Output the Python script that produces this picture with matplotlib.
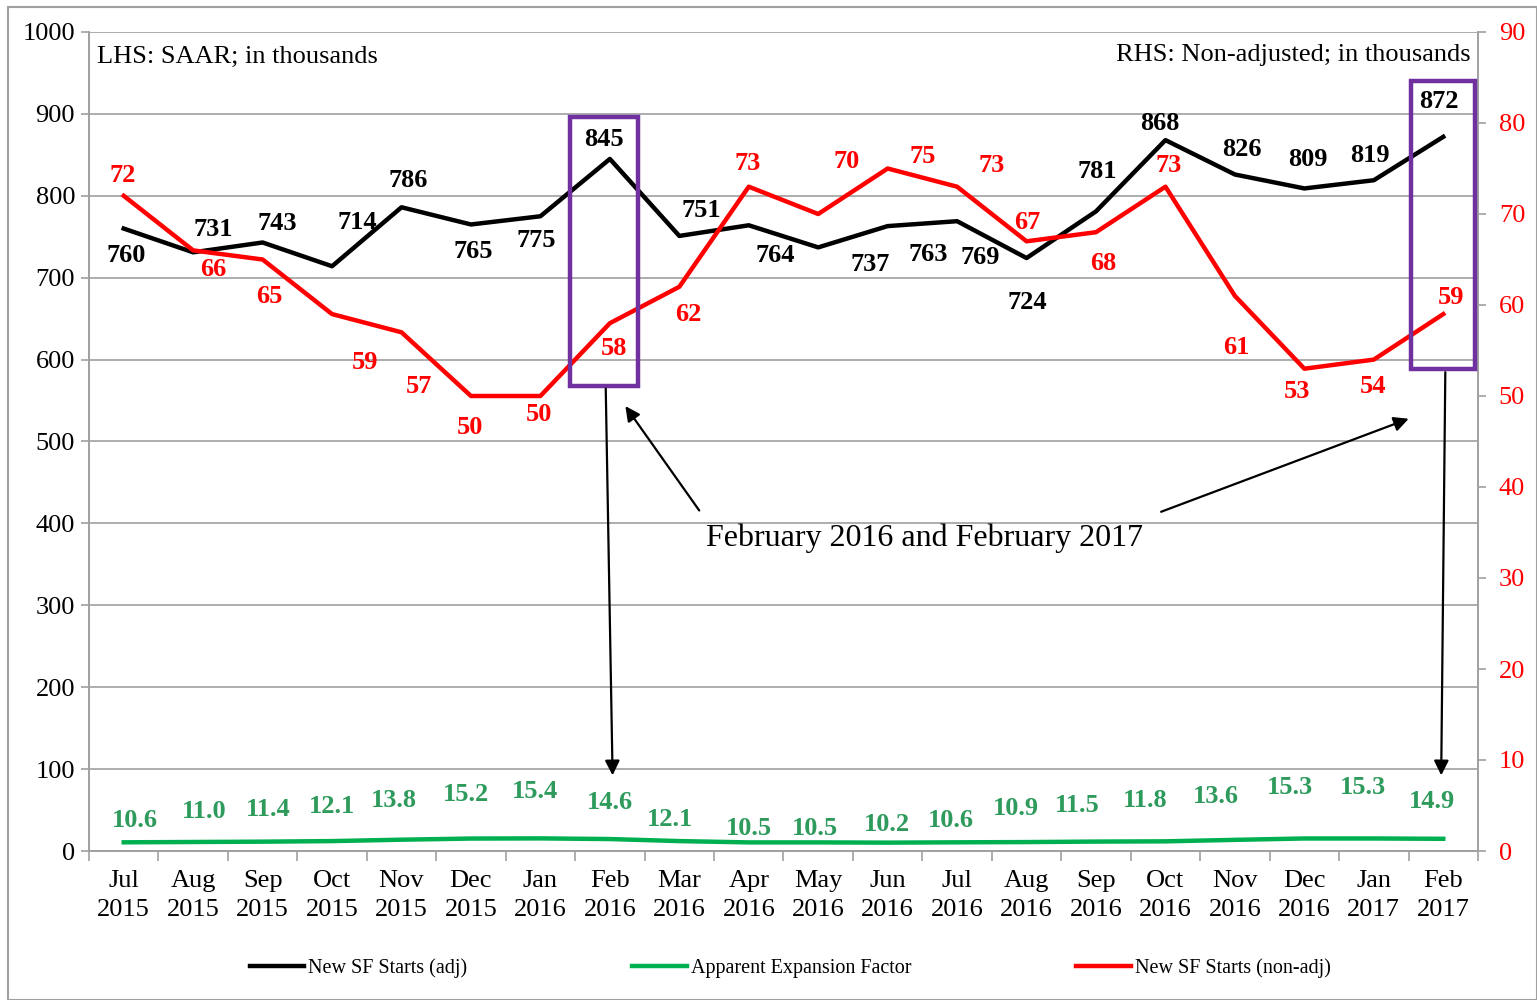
import matplotlib
matplotlib.use("Agg")
import matplotlib.pyplot as plt
from matplotlib.patches import Rectangle

# Datos
meses = ["Jul\n2015", "Aug\n2015", "Sep\n2015", "Oct\n2015", "Nov\n2015", "Dec\n2015",
         "Jan\n2016", "Feb\n2016", "Mar\n2016", "Apr\n2016", "May\n2016", "Jun\n2016",
         "Jul\n2016", "Aug\n2016", "Sep\n2016", "Oct\n2016", "Nov\n2016", "Dec\n2016",
         "Jan\n2017", "Feb\n2017"]
starts_adj = [760, 731, 743, 714, 786, 765, 775, 845, 751, 764, 737, 763, 769, 724, 781,
              868, 826, 809, 819, 872]
starts_nonadj = [72, 66, 65, 59, 57, 50, 50, 58, 62, 73, 70, 75, 73, 67, 68, 73, 61, 53, 54, 59]
expansion = [10.6, 11.0, 11.4, 12.1, 13.8, 15.2, 15.4, 14.6, 12.1, 10.5, 10.5, 10.2, 10.6,
             10.9, 11.5, 11.8, 13.6, 15.3, 15.3, 14.9]

# desplazamiento de las etiquetas (pixeles)
off_adj = [(2, -27), (20, 23), (15, 19), (25, 44), (7, 27), (2, -27), (-4, -24), (-6, 19),
           (22, 25), (26, -30), (52, -17), (41, -28), (23, -36), (1, -44), (1, 40), (-6, 17),
           (7, 25), (4, 29), (-4, 25), (-4, 35)]
off_nonadj = [(-1, 20), (20, -19), (7, -37), (33, -48), (17, -54), (-1, -32), (-1, -19),
              (4, -25), (9, -28), (-1, 23), (28, 52), (35, 12), (35, 21), (1, 19), (7, -31),
              (3, 21), (1, -52), (-7, -23), (-1, -27), (8, 17)]
off_exp = [(11, 22), (11, 30), (6, 32), (0, 35), (-8, 39), (-5, 44), (-5, 47), (0, 37),
           (-9, 22), (0, 14), (-3, 14), (-1, 18), (-6, 22), (-11, 34), (-19, 36), (-20, 41),
           (-19, 43), (-14, 51), (-11, 51), (-11, 37)]

plt.rcParams["font.family"] = ["Liberation Serif", "DejaVu Serif"]

VERDE = "#00B050"
VERDE_TXT = "#2E9A5C"
ROJO = "#FF0000"
VIOLETA = "#7030A0"
GRIS = "#A0A0A0"

fig = plt.figure(figsize=(15.37, 10), dpi=100)
fig.patches.append(Rectangle((0.005, 0.0), 0.995, 0.993, transform=fig.transFigure,
                             fill=False, edgecolor=GRIS, linewidth=1.5))
ax = fig.add_axes([0.0579, 0.149, 0.9037, 0.819])
ax2 = ax.twinx()

x = list(range(len(meses)))
ax.plot(x, starts_adj, color="black", lw=3.2, label="New SF Starts (adj)", zorder=3)
ax.plot(x, expansion, color=VERDE, lw=3.2, label="Apparent Expansion Factor", zorder=3)
ax2.plot(x, starts_nonadj, color=ROJO, lw=3.2, label="New SF Starts (non-adj)", zorder=3)

for i in x:
    ax.annotate(str(starts_adj[i]), (i, starts_adj[i]), xytext=off_adj[i],
                textcoords="offset pixels", ha="center", va="center",
                fontsize=19, fontweight="bold", color="black")
    ax2.annotate(str(starts_nonadj[i]), (i, starts_nonadj[i]), xytext=off_nonadj[i],
                 textcoords="offset pixels", ha="center", va="center",
                 fontsize=19, fontweight="bold", color=ROJO)
    ax.annotate("%.1f" % expansion[i], (i, expansion[i]), xytext=off_exp[i],
                textcoords="offset pixels", ha="center", va="center",
                fontsize=19, fontweight="bold", color=VERDE_TXT)

ax.set_xlim(-0.5, len(meses) - 0.5)
ax.set_ylim(0, 1000)
ax2.set_ylim(0, 90)
ax.set_yticks(range(0, 1001, 100))
ax2.set_yticks(range(0, 91, 10))
ax.set_xticks(x)
ax.set_xticklabels(meses, fontsize=19)
for t in ax.get_xticklabels():
    t.set_linespacing(1.4)
ax.set_xticks([i - 0.5 for i in range(len(meses) + 1)], minor=True)
ax.tick_params(axis="x", which="major", length=0, pad=14)
ax.tick_params(axis="x", which="minor", length=7, color=GRIS, width=1.2)
ax.tick_params(axis="y", labelsize=19, length=6, color=GRIS, width=1.2, pad=4)
ax2.tick_params(axis="y", labelsize=19, length=6, color=GRIS, width=1.2, labelcolor=ROJO, pad=9)
ax.grid(axis="y", color=GRIS, lw=1.2)
ax.set_axisbelow(True)
for a in (ax, ax2):
    a.spines["top"].set_visible(False)
    for s in ("left", "right", "bottom"):
        a.spines[s].set_color(GRIS)
        a.spines[s].set_linewidth(1.2)

ax.text(0.006, 0.97, "LHS: SAAR; in thousands", transform=ax.transAxes,
        fontsize=19, ha="left", va="center")
ax.text(0.995, 0.972, "RHS: Non-adjusted; in thousands", transform=ax.transAxes,
        fontsize=19, ha="right", va="center")

# recuadros en Feb 2016 y Feb 2017
feb16 = meses.index("Feb\n2016")
feb17 = meses.index("Feb\n2017")
ax2.add_patch(Rectangle((feb16 - 0.57, 568), 0.97, 328, transform=ax.transData,
                        fill=False, edgecolor=VIOLETA, lw=3.2, zorder=5))
ax2.add_patch(Rectangle((feb17 - 0.46, 588), 0.91, 352, transform=ax.transData,
                        fill=False, edgecolor=VIOLETA, lw=3.2, zorder=5))

flecha = dict(arrowstyle="-|>", color="black", lw=1.6, mutation_scale=22)
ax2.annotate("", xy=(feb16 + 0.04, 89), xytext=(feb16 - 0.06, 568), xycoords=ax.transData,
             textcoords=ax.transData, arrowprops=flecha, zorder=6)
ax2.annotate("", xy=(feb17 - 0.03, 89), xytext=(feb17 + 0.03, 588), xycoords=ax.transData,
             textcoords=ax.transData, arrowprops=flecha, zorder=6)
ax2.annotate("", xy=(feb16 + 0.2, 546), xytext=(8.31, 413), xycoords=ax.transData,
             textcoords=ax.transData, arrowprops=flecha, zorder=6)
ax2.annotate("", xy=(feb17 - 0.46, 529), xytext=(14.9, 413), xycoords=ax.transData,
             textcoords=ax.transData, arrowprops=flecha, zorder=6)
ax.text(11.53, 382, "February 2016 and February 2017", fontsize=23, ha="center", va="center")

h1, l1 = ax.get_legend_handles_labels()
h2, l2 = ax2.get_legend_handles_labels()
fig.legend(h1 + h2, l1 + l2, loc="center", bbox_to_anchor=(0.514, 0.032), ncol=3,
           frameon=False, fontsize=14.5, handlelength=2.7, columnspacing=8.2,
           handletextpad=0.2)

fig.savefig("out.png", dpi=100)
